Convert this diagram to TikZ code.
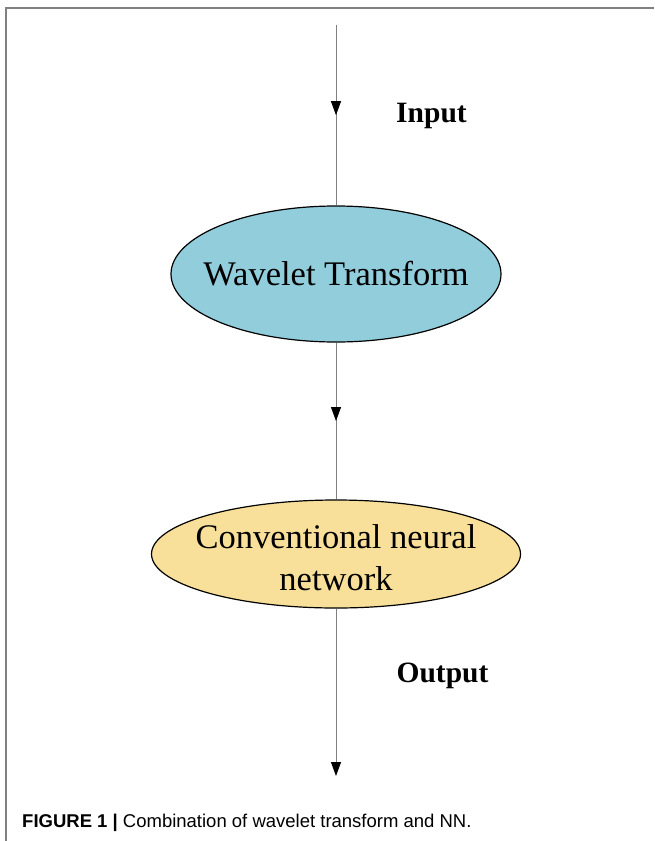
\documentclass[tikz,border=0pt]{standalone}
\usepackage{fontspec}
\setmainfont{Liberation Serif}
\newfontfamily\capfont{Liberation Sans}
\usetikzlibrary{shapes.geometric,arrows.meta,decorations.markings}
\definecolor{wtblue}{HTML}{92CDDC}
\definecolor{nnyellow}{HTML}{F9E09A}
\definecolor{linegray}{HTML}{808080}

\begin{document}
\begin{tikzpicture}[x=1pt,y=-1pt]
    \tikzstyle{stage}=[ellipse,draw=black,line width=1.2pt,inner sep=0pt]
    \tikzstyle{stagetext}=[font=\fontsize{34.5}{42}\selectfont,align=center]
    \tikzstyle{flow}=[draw=linegray,line width=0.9pt]
    \tikzstyle{midarrow}=[postaction={decorate},decoration={markings,mark=at position 0.5 with {\arrow[black]{Triangle[width=10pt,length=14pt]}}}]
    \tikzstyle{tag}=[anchor=base,inner sep=0pt,font=\fontsize{29.5}{32}\selectfont\bfseries]
    \useasboundingbox (0,0) rectangle (654,841);

    % frame
    \draw[linegray,line width=1.2pt] (654,8) -- (6,8) -- (6,841);

    \coordinate (top) at (336,25);
    \node (wt)[stage,fill=wtblue,minimum width=330pt,minimum height=136pt] at (336,274) {};
    \node (wtlabel)[stagetext] at (336,274) {Wavelet Transform};
    \node (nn)[stage,fill=nnyellow,minimum width=369pt,minimum height=108pt] at (336,554) {};
    \node (nnlabel)[stagetext] at (336,558) {Conventional neural\\network};
    \coordinate (bot) at (336,776);

    \draw[flow,midarrow] (top) -- (wt);
    \draw[flow,midarrow] (wt) -- (nn);
    \draw[flow,-{Triangle[width=10pt,length=14pt,fill=black,color=black]}] (nn) -- (bot);

    \node (in)[tag] at (431.5,122) {Input};
    \node (out)[tag] at (442.5,682) {Output};

    \node (cap)[anchor=base west,inner sep=0pt,font=\capfont\fontsize{18.5}{22}\selectfont] at (22,827) {\textbf{FIGURE 1 |} Combination of wavelet transform and NN.};
\end{tikzpicture}
\end{document}
